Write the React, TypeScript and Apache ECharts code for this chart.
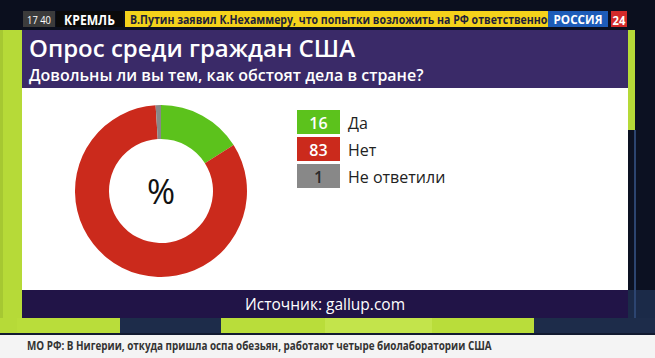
import React, { useEffect, useRef } from "react";
import * as echarts from "echarts";

const categories = ["Да", "Нет", "Не ответили"];
const values = [16, 83, 1];
const sliceColors = ["#5cc21c", "#cb2a1c", "#888888"];
const valueTextColors = ["#ffffff", "#ffffff", "#2a2a2a"];

const title = "Опрос среди граждан США";
const subtitle = "Довольны ли вы тем, как обстоят дела в стране?";
const source = "Источник: gallup.com";
const tickerTime = "17 40";
const tickerTag = "КРЕМЛЬ";
const tickerNews = "В.Путин заявил К.Нехаммеру, что попытки возложить на РФ ответственность";
const channel = "РОССИЯ";
const channelNum = "24";
const bottomNews = "МО РФ: В Нигерии, откуда пришла оспа обезьян, работают четыре биолаборатории США";

const MAIN_FONT = "'Open Sans', 'Noto Sans', sans-serif";

export default function App() {
  const ref = useRef<HTMLDivElement>(null);
  useEffect(() => {
    if (!ref.current) return;
    const chart = echarts.init(ref.current, null, { renderer: "svg" });

    const rect = (x: number, y: number, w: number, h: number, fill: string, z = 1) => ({
      type: "rect",
      shape: { x, y, width: w, height: h },
      style: { fill },
      z,
      silent: true,
    });
    const text = (
      x: number,
      y: number,
      t: string,
      size: number,
      fill: string,
      opts: any = {}
    ) => ({
      type: "text",
      x,
      y,
      scaleX: opts.scaleX ?? 1,
      z: opts.z ?? 20,
      silent: true,
      style: {
        text: t,
        fill,
        fontSize: size,
        fontFamily: MAIN_FONT,
        fontWeight: opts.weight ?? "normal",
        textAlign: opts.align ?? "left",
        textVerticalAlign: "middle",
      },
    });

    const legendEls: any[] = [];
    categories.forEach((c, i) => {
      const y = 110 + i * 27;
      legendEls.push(rect(297, y, 43, 24, sliceColors[i], 15));
      legendEls.push(
        text(318.5, y + 12.5, String(values[i]), 16, valueTextColors[i], { weight: 600, align: "center" })
      );
      legendEls.push(text(348, y + 12.5, c, 16, "#222222"));
    });

    // strip under the source bar: [from, to, colour]
    const bottomStrip: [number, number, string][] = [
      [0, 17, "#b6da38"],
      [17, 120, "#b9dd3a"],
      [120, 221, "#1d2c4a"],
      [221, 325, "#b9dd3a"],
      [325, 432, "#c3e44b"],
      [432, 534, "#b9dd3a"],
      [534, 655, "#1d2c4a"],
    ];

    chart.setOption({
      animation: false,
      backgroundColor: "#0c1122",
      graphic: [
        // background pieces
        rect(0, 0, 655, 30, "#0b0f1e", 1),
        rect(628, 290, 27, 28, "#1b2a48", 2),
        rect(0, 30, 22, 288, "#b6da38", 3),
        rect(0, 30, 3, 303, "#a6c832", 4),
        rect(628, 30, 7, 100, "#b6da38", 3),
        rect(634, 130, 2, 205, "#2c4470", 3),
        ...bottomStrip.map(([a, b, col]) => rect(a, 318, b - a, 15, col, 5)),
        rect(0, 333, 655, 2, "#121a30", 5),
        // panel
        rect(22, 30, 606, 58, "#3a2a68", 10),
        rect(22, 88, 606, 202, "#ffffff", 10),
        rect(22, 290, 606, 28, "#211447", 10),
        text(29, 47, title, 24, "#ffffff", { weight: 600 }),
        text(29, 75, subtitle, 16, "#ffffff", { weight: 600 }),
        text(325, 304, source, 15.5, "#ffffff", { align: "center" }),
        text(161, 191, "%", 34, "#111111", { align: "center" }),
        ...legendEls,
        // top ticker
        rect(23, 11, 32, 16, "#3b3b3b", 11),
        rect(56, 11, 67, 16, "#0a0a0a", 11),
        rect(125, 11, 423, 16, "#f4d21b", 11),
        text(130, 19.5, tickerNews, 12, "#1d1f3a", { weight: "bold", scaleX: 0.88, z: 12 }),
        rect(548, 11, 60, 16, "#1d5cb8", 13),
        rect(608, 11, 3, 16, "#0b0f1e", 13),
        rect(611, 11, 16, 16, "#d12a2a", 13),
        text(39, 19.5, tickerTime, 11, "#ffffff", { align: "center", scaleX: 0.85 }),
        text(89.5, 19.5, tickerTag, 13.5, "#ffffff", { align: "center", weight: "bold", scaleX: 0.9 }),
        text(578, 19.5, channel, 13, "#ffffff", { align: "center", weight: "bold", scaleX: 0.9 }),
        text(619, 19.5, channelNum, 12.5, "#ffffff", { align: "center", weight: "bold", scaleX: 0.9 }),
        // bottom ticker
        rect(0, 335, 655, 23, "#f4f4f4", 6),
        text(27, 346, bottomNews, 11.5, "#333333", { weight: "bold", scaleX: 0.86 }),
      ],
      series: [
        {
          type: "pie",
          center: [161, 191],
          radius: [52, 86],
          startAngle: 90,
          clockwise: true,
          label: { show: false },
          labelLine: { show: false },
          silent: true,
          z: 15,
          data: categories.map((c, i) => ({
            name: c,
            value: values[i],
            itemStyle: { color: sliceColors[i] },
          })),
        },
      ],
    });
    return () => chart.dispose();
  }, []);
  return (
    <div
      ref={ref}
      style={{ position: "fixed", left: 0, top: 0, width: 655, height: 358 }}
    />
  );
}
